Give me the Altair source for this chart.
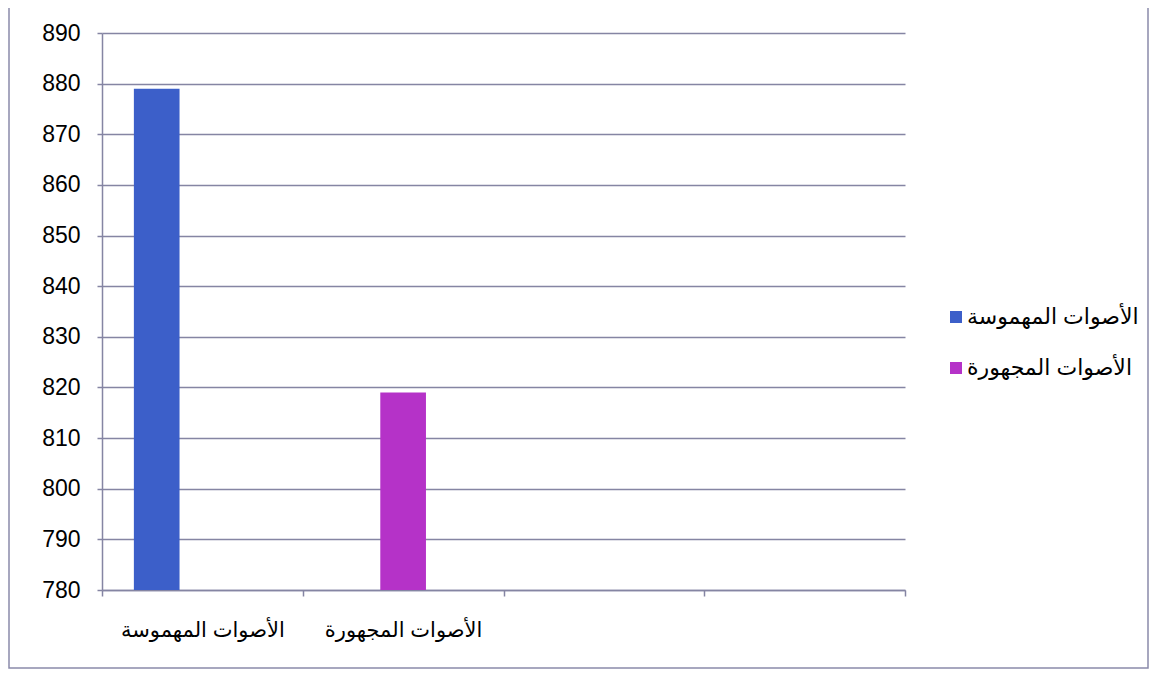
import altair as alt
import pandas as pd

categories = ["الأصوات المهموسة", "الأصوات المجهورة"]
series = ["الأصوات المهموسة", "الأصوات المجهورة"]
values = [879, 819]
axis_slots = categories + ["c3", "c4"]
offset_slots = series + ["s3"]
y_ticks = list(range(780, 900, 10))
colors = ["#3c5fc9", "#b532c8"]

df = pd.DataFrame({"category": categories, "series": series, "value": values})

FONT = "Liberation Sans, DejaVu Sans, Arial"
LINE = "#8585a3"

bars = alt.Chart(df).mark_bar(clip=True).encode(
    x=alt.X(
        "category:N",
        scale=alt.Scale(domain=axis_slots, paddingInner=0, paddingOuter=0),
        sort=axis_slots,
        axis=alt.Axis(
            title="",
            labelExpr="datum.value == 'c3' || datum.value == 'c4' ? '' : datum.value",
            labelAngle=0,
            labelFontSize=21,
            labelFont=FONT,
            labelColor="#000000",
            labelPadding=23,
            tickBand="extent",
            tickSize=6,
            tickColor=LINE,
            tickWidth=1.5,
            domainColor=LINE,
            domainWidth=1.5,
            grid=False,
            labelLimit=400,
        ),
    ),
    xOffset=alt.XOffset(
        "series:N",
        scale=alt.Scale(domain=offset_slots, paddingInner=0, paddingOuter=0.698),
    ),
    y=alt.Y(
        "value:Q",
        scale=alt.Scale(domain=[780, 890], nice=False, zero=False),
        axis=alt.Axis(
            title="",
            values=y_ticks,
            labelFontSize=23,
            labelFont=FONT,
            labelColor="#000000",
            labelPadding=17,
            tickSize=5,
            tickColor=LINE,
            tickWidth=1.5,
            domainColor=LINE,
            domainWidth=1.5,
            grid=True,
            gridColor=LINE,
            gridWidth=1.5,
        ),
    ),
    color=alt.Color(
        "series:N",
        scale=alt.Scale(domain=series, range=colors),
        legend=alt.Legend(
            title="",
            orient="none",
            legendX=843,
            legendY=273,
            symbolType="square",
            symbolSize=144,
            symbolStrokeWidth=0,
            labelFontSize=22,
            labelFont=FONT,
            labelColor="#000000",
            labelLimit=400,
            rowPadding=29,
            labelOffset=0,
        ),
    ),
)

border = alt.Chart(alt.Data(values=[{}])).mark_rect(
    fill="transparent", stroke="#8a8aaa", strokeWidth=1.5
).encode(
    x=alt.value(-93), x2=alt.value(1046), y=alt.value(-29), y2=alt.value(635)
)

chart = alt.layer(border, bars).properties(
    width=803,
    height=557,
    autosize=alt.AutoSizeParams(type="none"),
    padding={"left": 94, "top": 25, "right": 244, "bottom": 80},
    background="#ffffff",
).configure_view(stroke=None)

chart.save("out.html", embed_options={"renderer": "svg", "actions": False})
